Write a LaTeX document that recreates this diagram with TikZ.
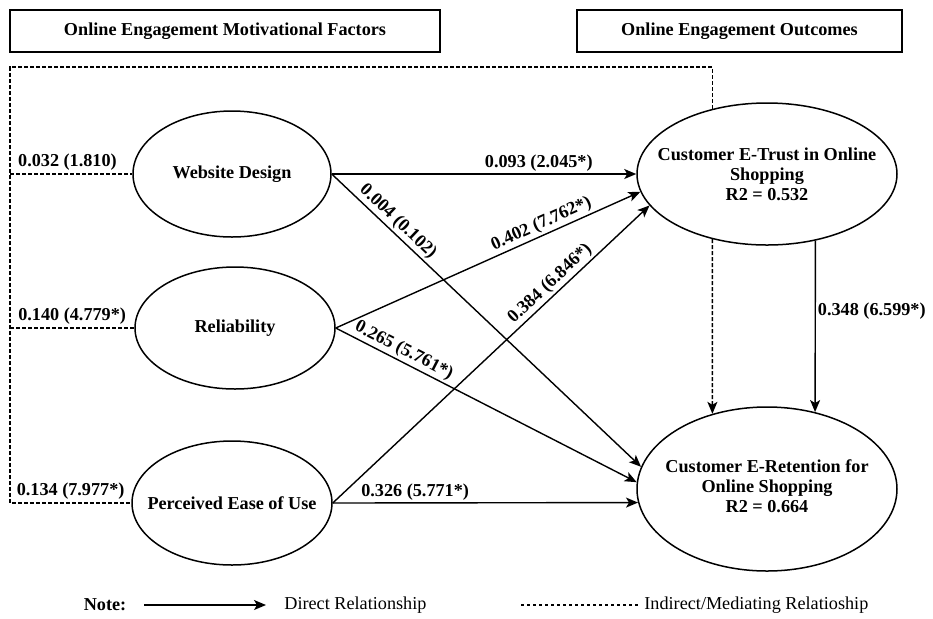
\documentclass[tikz,border=0pt]{standalone}
\usepackage{fontspec}
\setmainfont{Liberation Serif}
\usetikzlibrary{shapes.geometric,arrows.meta,calc}
\begin{document}
\begin{tikzpicture}[x=0.5pt,y=-0.5pt,
  every node/.style={font=\fontsize{9.1}{10}\selectfont\bfseries},
  oval/.style={draw,ellipse,line width=0.75pt,inner sep=0pt},
  ovaltext/.style={align=center,inner sep=0pt},
  titlebox/.style={draw,line width=0.75pt,inner sep=0pt},
  tip/.style={-{Stealth[length=6pt,width=5pt,inset=1.5pt]}},
  arr/.style={tip,line width=0.7pt},
  dsh/.style={dash pattern=on 2pt off 1pt,line width=0.7pt},
  lbl/.style={sloped,above,inner sep=1pt},
  legtext/.style={anchor=west,inner sep=0pt,font=\fontsize{9.1}{10}\selectfont}]
\useasboundingbox (0,0) rectangle (933,618);

% title boxes
\node[titlebox,minimum width=215pt,minimum height=21pt] (t1) at (225,31) {Online Engagement Motivational Factors};
\node[titlebox,minimum width=162.5pt,minimum height=21pt] (t2) at (739.5,31) {Online Engagement Outcomes};

% constructs
\node[oval,minimum width=99pt,minimum height=63pt] (wd) at (232,174) {};
\node[ovaltext] (wdt) at (wd.center) {Website Design};
\node[oval,minimum width=100pt,minimum height=61pt] (rel) at (235,328) {};
\node[ovaltext] (relt) at (rel.center) {Reliability};
\node[oval,minimum width=100pt,minimum height=62pt] (pe) at (232,503) {};
\node[ovaltext] (pet) at (pe.center) {Perceived Ease of Use};
\node[oval,minimum width=130pt,minimum height=71pt] (trust) at (767,174) {};
\node[ovaltext] (trustt) at (trust.center) {Customer E-Trust in Online\\Shopping\\R2 = 0.532};
\node[oval,minimum width=130pt,minimum height=82pt] (ret) at (767,489) {};
\node[ovaltext] (rett) at ($(ret.center)+(0,-3)$) {Customer E-Retention for\\Online Shopping\\R2 = 0.664};

% direct paths
\draw[arr] (wd.east) -- node[lbl,pos=0.68]{0.093 (2.045*)} (trust.west);
\draw[arr] (wd.east) -- node[lbl,pos=0.19]{0.004 (0.102)} (ret.170);
\draw[arr] (rel.east) -- node[lbl,pos=0.69]{0.402 (7.762*)} (trust.188);
\draw[arr] (rel.east) -- node[lbl,pos=0.21]{0.265 (5.761*)} (ret.177);
\draw[arr] (pe.east) -- node[lbl,pos=0.71]{0.384 (6.846*)} (trust.195);
\draw[arr] (pe.east) -- node[lbl,pos=0.27]{0.326 (5.771*)} (ret.186);
\draw[arr] (trust.306) -- node[right,inner sep=1pt,pos=0.41]{0.348 (6.599*)} (ret.58);

% indirect (mediating) paths
\coordinate (ftl) at (10,67);
\coordinate (fbl) at (10,503);
\draw[dsh] (trust.130) |- (ftl) -- (fbl) -- node[above,inner sep=1.5pt]{0.134 (7.977*)} (pe.west);
\draw[dsh] (ftl |- wd.west) -- node[above,inner sep=1.5pt,pos=0.47]{0.032 (1.810)} (wd.west);
\draw[dsh] (ftl |- rel.west) -- node[above,inner sep=1.5pt]{0.140 (4.779*)} (rel.west);
\draw[dsh,tip] (trust.230) -- (ret.126);

% legend
\node[inner sep=0pt] (note) at (105,605) {Note:};
\coordinate (la1) at (144,605);
\coordinate (la2) at (266,605);
\draw[arr] (la1) -- (la2);
\node[legtext] (direct) at (284,605) {Direct Relationship};
\coordinate (ld1) at (521,605);
\coordinate (ld2) at (638,605);
\draw[dash pattern=on 1.5pt off 1.5pt,line width=0.6pt] (ld1) -- (ld2);
\node[legtext] (indirect) at (644,605) {Indirect/Mediating Relatioship};
\end{tikzpicture}
\end{document}
